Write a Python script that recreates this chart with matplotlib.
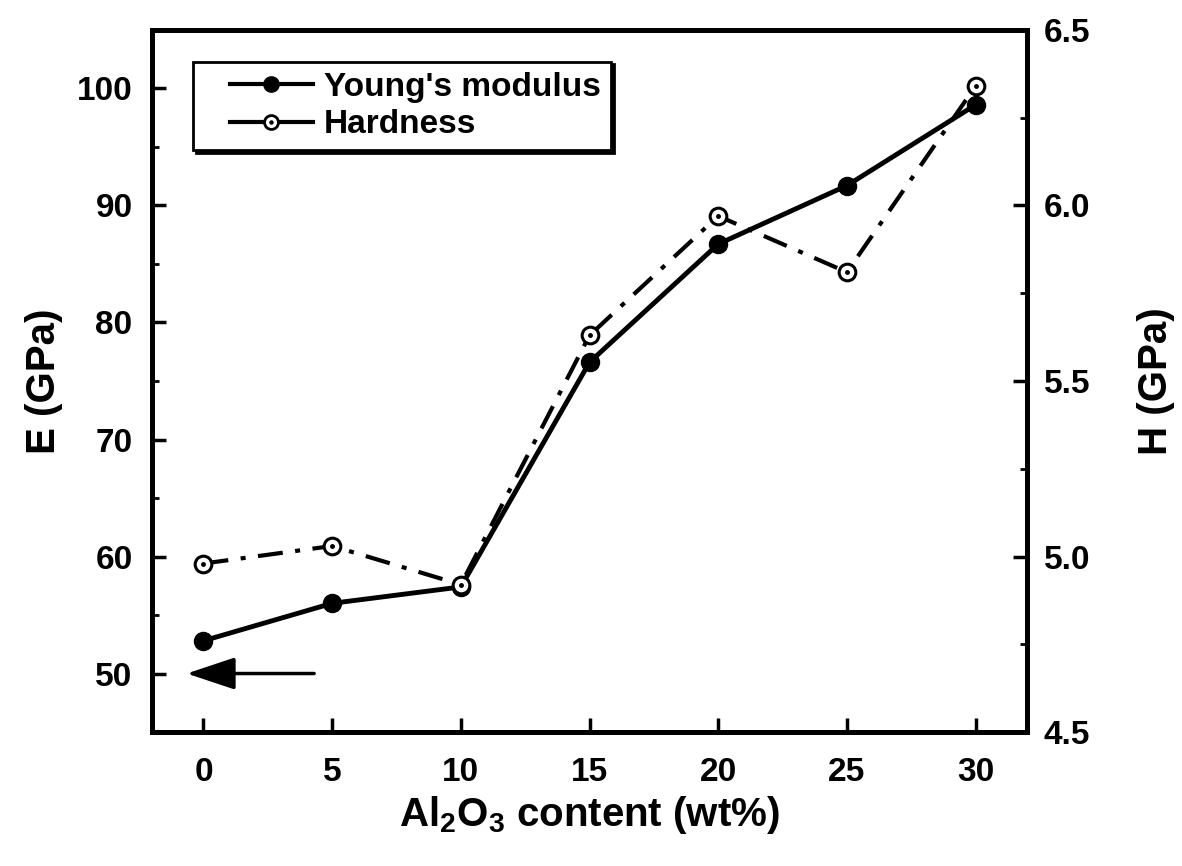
import matplotlib.pyplot as plt
from matplotlib.lines import Line2D
from matplotlib.legend_handler import HandlerTuple, HandlerLine2D

plt.rcParams['font.family'] = ['Liberation Sans', 'DejaVu Sans']
plt.rcParams['font.weight'] = 'bold'
plt.rcParams['mathtext.fontset'] = 'custom'
plt.rcParams['mathtext.default'] = 'bf'
plt.rcParams['mathtext.bf'] = 'Liberation Sans:bold'

# data
al2o3 = [0, 5, 10, 15, 20, 25, 30]
young = [52.8, 56.0, 57.4, 76.6, 86.7, 91.7, 98.6]
hardness = [4.98, 5.03, 4.92, 5.63, 5.97, 5.81, 6.34]


class ShiftedLine(HandlerLine2D):
    # leave some blank space before the key line, like the original legend
    def create_artists(self, legend, orig_handle, xdescent, ydescent, width,
                       height, fontsize, trans):
        s = 0.8 * fontsize
        return super().create_artists(legend, orig_handle, xdescent - s, ydescent,
                                      width - s, height, fontsize, trans)


fig = plt.figure(figsize=(11.82, 8.66), dpi=100)
ax = fig.add_axes([0.1286, 0.1547, 0.7403, 0.8107])
ax2 = ax.twinx()

ax.plot(al2o3, young, '-', color='k', lw=3.5, marker='o', ms=13, mfc='k', mec='k')
ax2.plot(al2o3, hardness, color='k', lw=3, dashes=(6, 3, 1.2, 3),
         marker='o', ms=12, mfc='white', mec='k', mew=2.2)
ax2.plot(al2o3, hardness, ls='none', marker='o', ms=2.5, color='k')

ax.set_xlim(-2, 32)
ax.set_ylim(45, 105)
ax2.set_ylim(4.5, 6.5)
ax.set_xticks(al2o3)
ax.set_yticks([50, 60, 70, 80, 90, 100])
ax.set_yticks([55, 65, 75, 85, 95], minor=True)
ax2.set_yticks([4.5, 5.0, 5.5, 6.0, 6.5])
ax2.set_yticks([4.75, 5.25, 5.75, 6.25], minor=True)

for a in (ax, ax2):
    for s in a.spines.values():
        s.set_linewidth(3.5)
    a.tick_params(which='major', direction='in', length=10, width=2.5,
                  labelsize=24, pad=14)
    a.tick_params(which='minor', direction='in', length=5, width=2)
ax.tick_params(axis='x', pad=18)
ax2.tick_params(axis='y', pad=12)

ax.set_xlabel(r'Al$_2$O$_3$ content (wt%)', fontsize=29, fontweight='bold', labelpad=4)
ax.set_ylabel('E (GPa)', fontsize=29, fontweight='bold', labelpad=10)
ax2.set_ylabel('H (GPa)', fontsize=29, fontweight='bold', labelpad=34)

ax.annotate('', xy=(-0.65, 50), xytext=(4.3, 50),
            arrowprops=dict(arrowstyle='-|>,head_length=0.75,head_width=0.25',
                            mutation_scale=40, lw=2.5, color='k', shrinkA=0, shrinkB=0))

# legend proxies (solid short segments like the original key)
h_young = Line2D([], [], color='k', lw=3, marker='o', ms=11, mfc='k', mec='k')
h_hard = Line2D([], [], color='k', lw=3, marker='o', ms=10, mfc='white', mec='k', mew=2)
h_dot = Line2D([], [], ls='none', marker='o', ms=2.2, color='k')
hl = ShiftedLine()

leg = ax2.legend([h_young, (h_hard, h_dot)], ["Young's modulus", 'Hardness'],
                 handler_map={h_young: hl, h_hard: hl, h_dot: hl,
                              tuple: HandlerTuple(ndivide=1, pad=0)},
                 loc='upper left', bbox_to_anchor=(0.047, 0.955), borderaxespad=0,
                 fontsize=24, fancybox=False, edgecolor='k', framealpha=1,
                 shadow={'color': 'black', 'alpha': 1}, handlelength=3.3,
                 handletextpad=0.33, labelspacing=0.2, borderpad=0.3)
leg.get_frame().set_linewidth(2)

fig.savefig('out.png', dpi=100)
